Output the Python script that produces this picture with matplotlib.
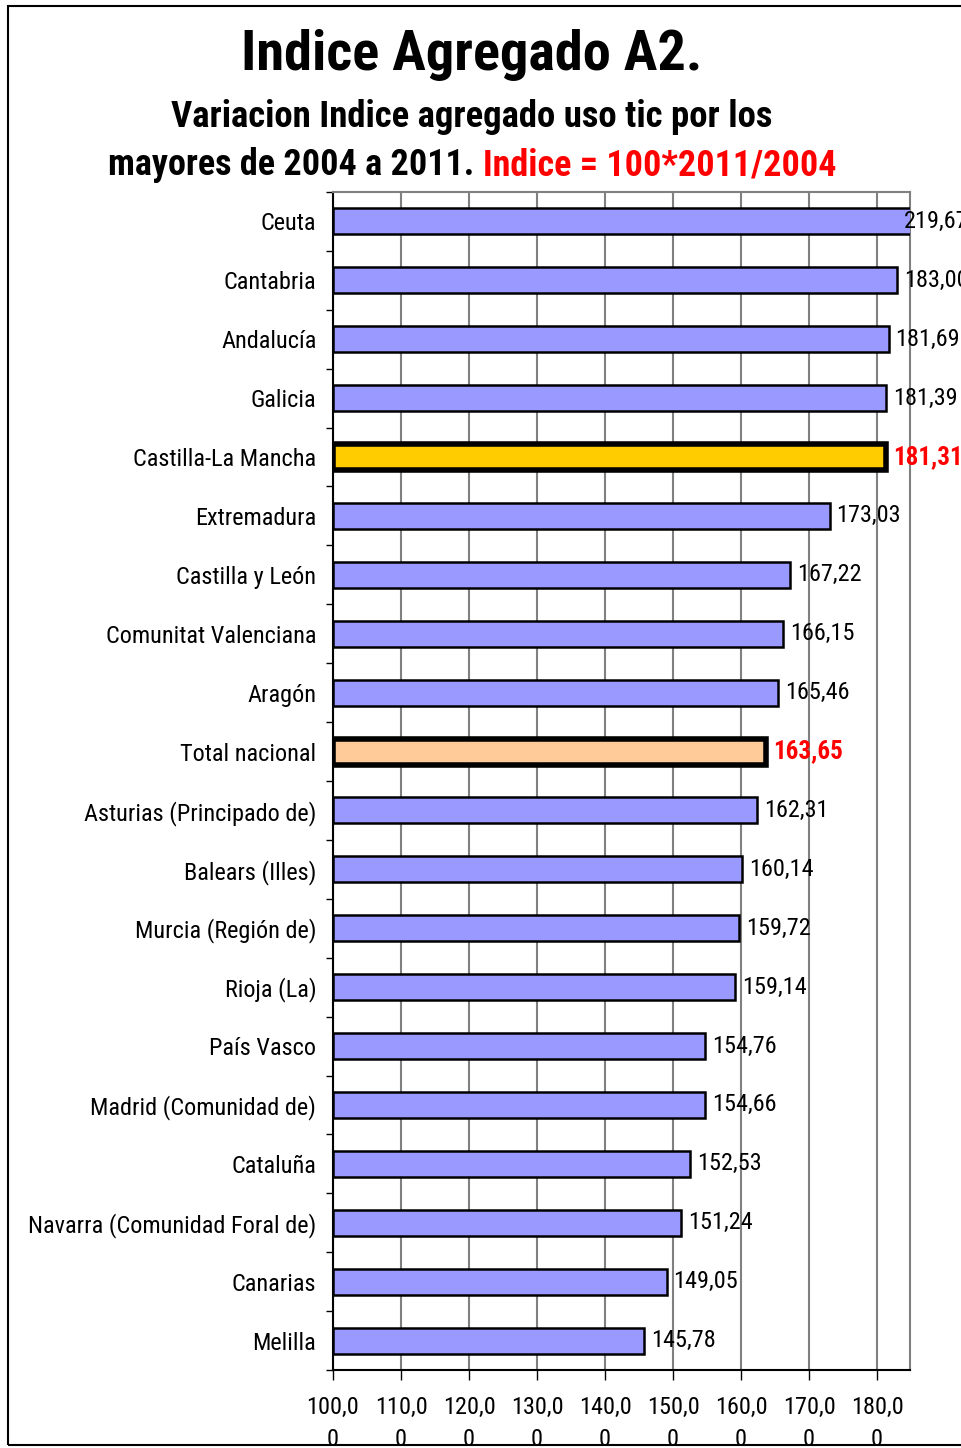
import matplotlib
matplotlib.use('Agg')
import matplotlib.pyplot as plt
from matplotlib import font_manager as fm
from matplotlib.patches import Rectangle

# Datos (de arriba abajo)
regiones = ['Ceuta', 'Cantabria', 'Andalucía', 'Galicia', 'Castilla-La Mancha',
            'Extremadura', 'Castilla y León', 'Comunitat Valenciana', 'Aragón',
            'Total nacional', 'Asturias (Principado de)', 'Balears (Illes)',
            'Murcia (Región de)', 'Rioja (La)', 'País Vasco', 'Madrid (Comunidad de)',
            'Cataluña', 'Navarra (Comunidad Foral de)', 'Canarias', 'Melilla']
indices = [219.67, 183.00, 181.69, 181.39, 181.31, 173.03, 167.22, 166.15, 165.46,
           163.65, 162.31, 160.14, 159.72, 159.14, 154.76, 154.66, 152.53, 151.24,
           149.05, 145.78]
xticks = [100, 110, 120, 130, 140, 150, 160, 170, 180]
xtick_labels = ['100,0\n0', '110,0\n0', '120,0\n0', '130,0\n0', '140,0\n0',
                '150,0\n0', '160,0\n0', '170,0\n0', '180,0\n0']


# Buscar una fuente estrecha (tipo Arial Narrow) si existe
def es_estrecha(f):
    if 'Narrow' in f.name or 'Condensed' in f.name:
        return True
    s = f.stretch
    if isinstance(s, str):
        return s in ('condensed', 'semi-condensed', 'extra-condensed')
    return s < 500


def es_negrita(f):
    w = f.weight
    if isinstance(w, str):
        return w.lower() in ('bold', 'demibold', 'semibold')
    return w >= 600


def buscar(bold):
    preferidas = ['Liberation Sans Narrow', 'Arial Narrow', 'Roboto Condensed',
                  'Open Sans Condensed', 'Noto Sans', 'DejaVu Sans', 'Open Sans', 'Roboto']
    cands = [f for f in fm.fontManager.ttflist
             if es_estrecha(f) and es_negrita(f) == bold and f.style == 'normal']
    for nombre in preferidas:
        for f in cands:
            if f.name.startswith(nombre):
                return fm.FontProperties(fname=f.fname)
    if cands:
        return fm.FontProperties(fname=cands[0].fname)
    return None


fp = buscar(False)
fpb = buscar(True)
escala = 1.0
if fp is None or fpb is None:
    fp = fm.FontProperties(family='Liberation Sans')
    fpb = fm.FontProperties(family='Liberation Sans', weight='bold')
    escala = 0.84


def prop(base, size):
    p = base.copy()
    p.set_size(size * escala)
    return p


W, H = 962, 1448
fig = plt.figure(figsize=(W / 100, H / 100), dpi=100)
fig.patch.set_facecolor('white')

# Borde exterior
fig.patches.append(Rectangle((8 / W, 1 - 1445 / H), 1.0, (1445 - 6) / H,
                             transform=fig.transFigure, fill=False,
                             edgecolor='black', linewidth=1.5))

ax = fig.add_axes([333 / W, 1 - 1370 / H, (910 - 333) / W, (1370 - 192) / H])

n = len(regiones)
ys = list(range(n - 1, -1, -1))
for y, nombre, v in zip(ys, regiones, indices):
    if nombre == 'Castilla-La Mancha':
        color, lw = '#FFCC00', 4
    elif nombre == 'Total nacional':
        color, lw = '#FFCC99', 4
    else:
        color, lw = '#9999FF', 1.8
    ax.barh(y, v - 100, left=100, height=0.44, color=color, edgecolor='black',
            linewidth=lw, zorder=3)
    xl = min(v, 183.0)
    txt = f'{v:.2f}'.replace('.', ',')
    if lw > 2:
        ax.annotate(txt, (xl, y), xytext=(5, 0), textcoords='offset points',
                    va='center', ha='left', fontproperties=prop(fpb, 18), color='red',
                    zorder=4, annotation_clip=False)
    else:
        ax.annotate(txt, (xl, y), xytext=(5, 0), textcoords='offset points',
                    va='center', ha='left', fontproperties=prop(fp, 17.5), color='black',
                    zorder=4, annotation_clip=False)

ax.set_xlim(100, 184.85)
ax.set_ylim(-0.5, n - 0.5)

ax.set_xticks(xticks)
ax.set_xticklabels(xtick_labels, fontproperties=prop(fp, 17.5), linespacing=1.5)
ax.tick_params(axis='x', direction='out', length=7, width=1, pad=12)

ax.set_yticks(ys)
ax.set_yticklabels(regiones, fontproperties=prop(fp, 17.5))
ax.set_yticks([i + 0.5 for i in range(-1, n)], minor=True)
ax.tick_params(axis='y', which='major', length=0, pad=12)
ax.tick_params(axis='y', which='minor', direction='out', length=5, width=1)

ax.grid(axis='x', color='#808080', linewidth=1.5, zorder=0)
ax.set_axisbelow(True)
ax.spines['left'].set_color('black')
ax.spines['bottom'].set_color('black')
ax.spines['top'].set_color('#808080')
ax.spines['right'].set_color('#808080')
for s in ax.spines.values():
    s.set_linewidth(1.5)

# Titulos
fig.text(472 / W, 1 - 55 / H, 'Indice Agregado A2.', ha='center', va='center',
         fontproperties=prop(fpb, 40.5))
fig.text(472 / W, 1 - 117 / H, 'Variacion Indice agregado uso tic por los',
         ha='center', va='center', fontproperties=prop(fpb, 26.5))

t1 = fig.text(0, 1 - 165 / H, 'mayores de 2004 a 2011. ', ha='left', va='center',
              fontproperties=prop(fpb, 26), color='black')
t2 = fig.text(0, 1 - 165 / H, 'Indice = 100*2011/2004', ha='left', va='center',
              fontproperties=prop(fpb, 26), color='red')
fig.canvas.draw()
r = fig.canvas.get_renderer()
w1 = t1.get_window_extent(r).width
w2 = t2.get_window_extent(r).width
x0 = 472 - (w1 + w2) / 2
t1.set_x(x0 / W)
t2.set_x((x0 + w1) / W)

fig.savefig('out.png', dpi=100)
